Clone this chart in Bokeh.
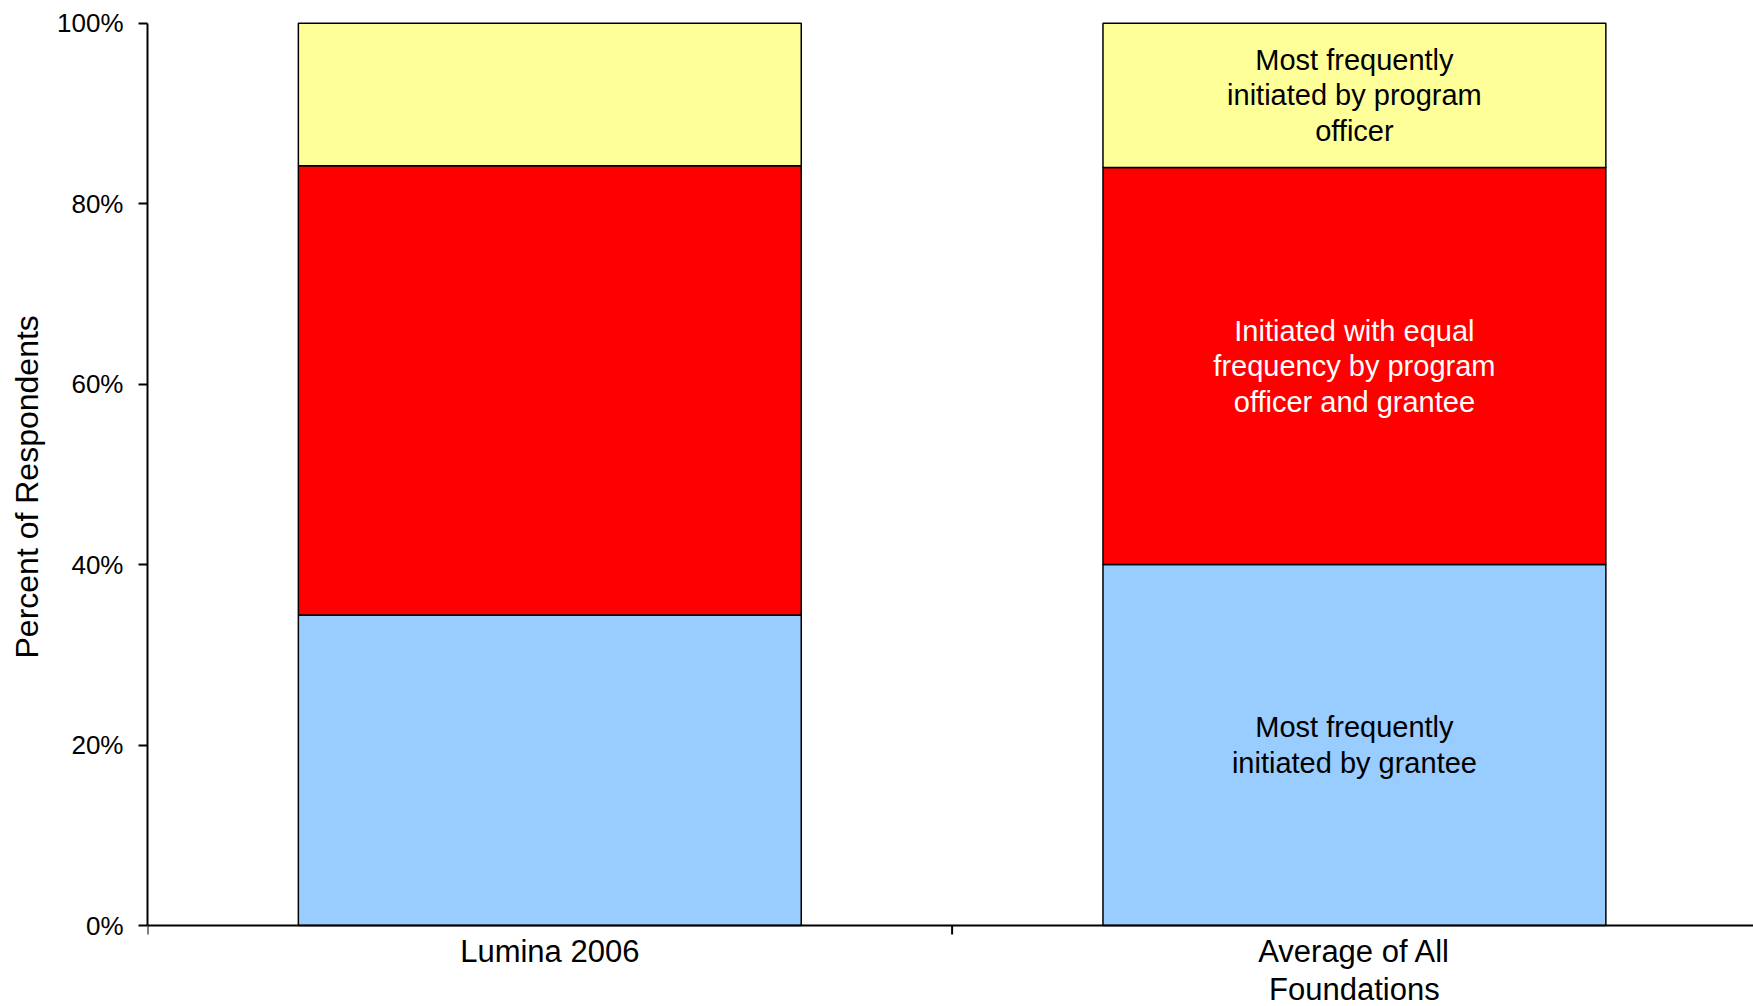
from bokeh.plotting import figure
from bokeh.models import ColumnDataSource, FixedTicker, PrintfTickFormatter, Range1d, Span
from bokeh.core.properties import value
from bokeh.embed import file_html
from bokeh.resources import INLINE

# Who initiates contact: share of respondents per group
categories = ["Lumina 2006", "Average of All\nFoundations"]
grantee = [34.4, 40.0]
equal_freq = [49.8, 44.0]
program_officer = [15.8, 16.0]
series_labels = [
    "Most frequently\ninitiated by grantee",
    "Initiated with equal\nfrequency by program\nofficer and grantee",
    "Most frequently\ninitiated by program\nofficer",
]
y_ticks = [0, 20, 40, 60, 80, 100]

FONT = "Liberation Sans"
fills = ["#99CCFF", "#FF0000", "#FFFF99"]
label_colors = ["black", "white", "black"]
labelled_bar = 1  # only the second bar carries segment labels

# canvas geometry: the category baseline sits BASE_PX above the bottom edge,
# leaving room for the category names inside the plotting area
W, H, TOP_PX, BASE_PX = 1753, 1006, 20, 81
Y_TOP = 100.3
y_start = -BASE_PX * Y_TOP / (H - TOP_PX - BASE_PX)
px_per_unit = (H - TOP_PX - BASE_PX) / Y_TOP
tick_len = 9 / px_per_unit
name_gap = 8 / px_per_unit

centers = [i + 0.5 for i in range(len(categories))]
boundaries = list(range(len(categories) + 1))
source = ColumnDataSource(dict(
    x=centers,
    grantee=grantee,
    equal=equal_freq,
    officer=program_officer,
))

p = figure(
    width=W, height=H,
    output_backend="svg", toolbar_location=None,
    x_range=Range1d(0, len(categories) - 0.004), y_range=Range1d(y_start, Y_TOP),
    x_axis_location=None,
    min_border_left=147, min_border_right=0, min_border_top=TOP_PX, min_border_bottom=0,
    tools="",
)
p.outline_line_color = None
p.grid.visible = False
p.background_fill_color = "white"

p.vbar_stack(
    ["grantee", "equal", "officer"], x="x", width=0.625, source=source,
    fill_color=fills, line_color="black", line_width=1.5,
)

# segment labels centred in each segment of the labelled bar
stacks = [grantee, equal_freq, program_officer]
mids, base = [], 0.0
for s in stacks:
    v = s[labelled_bar]
    mids.append(base + v / 2)
    base += v
lab_src = ColumnDataSource(dict(
    x=[centers[labelled_bar]] * len(stacks),
    y=mids,
    text=series_labels,
    color=label_colors,
))
p.text(
    x="x", y="y", text="text", source=lab_src, text_color="color",
    text_align="center", text_baseline="middle",
    text_font=value(FONT), text_font_size="29px", text_line_height=1.11,
)

# category axis: baseline, boundary tick marks and category names
p.add_layout(Span(location=0, dimension="width", line_color="black", line_width=2))
p.segment(
    x0=boundaries, y0=[0] * len(boundaries),
    x1=boundaries, y1=[-tick_len] * len(boundaries),
    line_color="black", line_width=2,
)
p.text(
    x=centers, y=[-name_gap] * len(categories), text=categories,
    text_align="center", text_baseline="top", text_color="black",
    text_font=value(FONT), text_font_size="31px", text_line_height=1.1,
)

# y axis; leading no-break spaces lift the title to sit over the 0-100 span
ya = p.yaxis[0]
ya.ticker = FixedTicker(ticks=y_ticks, minor_ticks=[])
ya.formatter = PrintfTickFormatter(format="%d%%")
ya.bounds = (0, 100)
ya.axis_label = "\u00a0" * 6 + "Percent of Respondents"
ya.axis_label_text_font = FONT
ya.axis_label_text_font_size = "32px"
ya.axis_label_text_font_style = "normal"
ya.axis_label_text_color = "black"
ya.axis_label_standoff = 9
ya.major_label_text_font = FONT
ya.major_label_text_font_size = "26px"
ya.major_label_text_color = "black"
ya.major_label_standoff = 15
ya.major_tick_out = 9
ya.major_tick_in = 0
ya.major_tick_line_width = 2
ya.axis_line_width = 2
ya.axis_line_color = "black"
ya.major_tick_line_color = "black"

open("out.html", "w").write(file_html(p, INLINE))
